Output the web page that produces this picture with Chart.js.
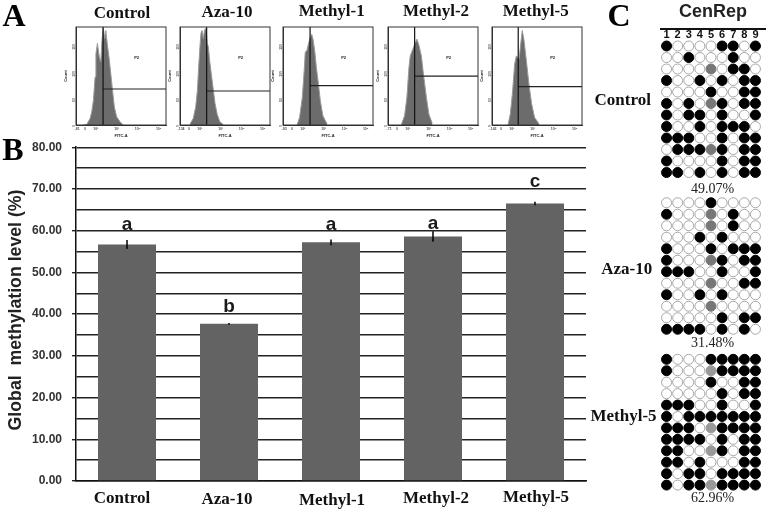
<!DOCTYPE html>
<html><head><meta charset="utf-8">
<style>
html,body{margin:0;padding:0;background:#fff;width:767px;height:511px;overflow:hidden}
#page{position:relative;width:767px;height:511px;filter:blur(.3px)}
canvas{position:absolute;display:block}
.t{position:absolute;transform:translate(-50%,-50%);white-space:pre;line-height:1;color:#111}
.serifb{font:bold 17px "Liberation Serif",serif}
.letter{font:bold 32px "Liberation Serif",serif;color:#000}
.pct{font:14px "Liberation Serif",serif;color:#222}
.cen{font:bold 18px "Liberation Sans",sans-serif;color:#222}
.ytitle{font:bold 17.7px "Liberation Sans",sans-serif;color:#222;transform:translate(-50%,-50%) rotate(-90deg)}
#rule{position:absolute;left:660px;top:28px;width:106px;height:2px;background:#111}
.blur{filter:blur(.35px)}
</style></head><body><div id="page"></div>
<script src="https://cdn.jsdelivr.net/npm/chart.js@4/dist/chart.umd.js"></script>
<script>
// ---------- Panel B data ----------
const groups = ["Control","Aza-10","Methyl-1","Methyl-2","Methyl-5"];
const methylationLevel = [56.66,37.67,57.2,58.6,66.5];
const errorHalf = [1.07,0.2,0.7,1.25,0.4];
const sigLetters = ["a","b","a","a","c"];
const sigLetterLevel = [60.2,40.4,60.2,60.35,70.5];
const yAxisTitle = "Global  methylation level (%)";

// ---------- Panel A data: FITC-A (log10) and count, per histogram ----------
const ctrlLog = [1.4,1.57,1.73,1.81,1.89,1.97,2.01,2.08,2.17,2.24,2.30,2.36,2.43,2.48,2.55,2.65,2.71,2.81,2.89,3.0,3.16,3.31];
const ctrlCount = [0,1,12,24,46,89,132,151,126,117,157,180,160,175,151,120,98,61,33,15,6,0];
const azaLog = [1.54,1.69,1.81,1.89,1.95,2.01,2.06,2.11,2.17,2.23,2.30,2.36,2.41,2.49,2.57,2.65,2.73,2.84,2.96,3.12];
const azaCount = [2,12,34,65,108,145,170,175,160,176,179,151,145,114,89,65,40,19,6,1];
const m1Log = [1.73,1.85,1.98,2.08,2.12,2.20,2.27,2.36,2.43,2.49,2.57,2.65,2.73,2.84,2.96,3.16];
const m1Count = [0,14,51,107,135,138,150,162,168,159,138,107,82,45,17,2];
const m2Log = [1.69,1.85,1.96,2.06,2.12,2.22,2.33,2.44,2.54,2.65,2.76,2.89,3.01,3.17];
const m2Count = [0,17,51,107,128,138,150,159,147,128,91,51,20,3];
const m5Log = [1.82,1.93,2.03,2.14,2.22,2.35,2.43,2.50,2.58,2.69,2.82,2.95,3.09,3.30];
const m5Count = [0,20,57,113,128,122,150,175,159,122,76,39,14,2];
const gateLog = [2.35,2.33,2.35,2.33,2.31];
const gateCount = [66.6,63,73,90.6,71];
const firstTick = ["-81","-134","-93","-71","-143"];
const countTicks = [0,50,100,150];

// ---------- Panel C data: 0 open, 1 methylated, 2 undetermined ----------
const sitesHeader = [1,2,3,4,5,6,7,8,9];
const controlDots = [
 [1,0,0,0,0,1,1,0,1],[0,0,1,0,0,0,1,0,0],[0,0,0,0,2,0,1,1,0],[1,0,0,1,0,1,0,1,1],
 [0,0,0,0,1,0,0,1,1],[1,0,1,0,2,1,0,1,1],[1,0,1,1,0,1,0,0,1],[1,0,0,1,0,1,1,1,0],
 [1,1,1,0,0,1,0,1,1],[0,1,1,1,2,1,0,1,1],[1,0,0,0,0,1,0,1,1],[1,1,0,1,0,1,0,1,1]];
const azaDots = [
 [0,0,0,0,1,0,0,0,0],[1,0,0,0,2,0,1,0,0],[0,0,0,0,2,0,1,0,0],[0,0,0,1,0,1,0,0,0],
 [1,0,0,0,1,0,1,1,1],[1,0,0,0,2,1,0,1,1],[1,1,1,0,0,1,0,0,1],[0,0,0,0,2,0,0,1,1],
 [1,0,0,1,0,1,0,0,0],[0,0,0,0,2,0,0,0,0],[0,0,0,0,0,1,0,1,1],[1,1,1,1,0,1,0,1,0]];
const methyl5Dots = [
 [1,0,0,0,1,1,1,1,1],[1,0,0,0,2,1,1,1,1],[0,0,0,0,1,0,0,1,1],[0,0,0,0,0,1,0,1,1],
 [1,1,1,0,0,1,0,0,1],[1,0,1,1,1,1,1,1,1],[1,1,1,0,2,1,1,1,1],[1,1,1,1,0,1,0,1,1],
 [1,1,0,0,2,1,0,1,1],[1,1,0,1,0,0,0,1,1],[1,0,1,1,0,1,1,1,1],[1,0,1,1,2,1,1,1,1]];

// ---------- helpers ----------
const page = document.getElementById('page');
Chart.defaults.animation = false;
Chart.defaults.responsive = false;
Chart.defaults.plugins.legend.display = false;
Chart.defaults.plugins.tooltip.enabled = false;
function canvasAt(l,t,w,h,cls){
  const c=document.createElement('canvas');c.width=w;c.height=h;
  c.style.left=l+'px';c.style.top=t+'px';c.style.width=w+'px';c.style.height=h+'px';
  if(cls)c.className=cls;page.appendChild(c);return c;
}
function text(s,x,y,cls){const d=document.createElement('div');d.className='t '+cls;d.textContent=s;
  d.style.left=x+'px';d.style.top=y+'px';page.appendChild(d);}

// ---------- Panel B ----------
const barDecor={id:'barDecor',afterDatasetsDraw(ch){
  const g=ch.ctx,x=ch.scales.x,y=ch.scales.y;g.save();
  g.strokeStyle='#000';g.lineWidth=1.5;
  groups.forEach((n,i)=>{const px=x.getPixelForValue(i);
    g.beginPath();g.moveTo(px,y.getPixelForValue(methylationLevel[i]+errorHalf[i]));
    g.lineTo(px,y.getPixelForValue(methylationLevel[i]-errorHalf[i]));g.stroke();});
  g.fillStyle='#1a1a1a';g.font='bold 19px "Liberation Sans"';g.textAlign='center';g.textBaseline='alphabetic';
  groups.forEach((n,i)=>g.fillText(sigLetters[i],x.getPixelForValue(i),y.getPixelForValue(sigLetterLevel[i])));
  // category labels, nudged as in the figure
  const dx=[-5,-2,1,3,1], dy=[499,500,501,499,498];
  g.fillStyle='#111';g.font='bold 17px "Liberation Serif"';g.textBaseline='middle';
  groups.forEach((n,i)=>g.fillText(n,x.getPixelForValue(i)+dx[i],dy[i]-ch.canvas.offsetTop));
  g.restore();
}};
new Chart(canvasAt(0,130,600,381),{
  type:'bar',
  data:{labels:groups,datasets:[{data:methylationLevel,backgroundColor:'#636363',borderWidth:0,
    barPercentage:58/102,categoryPercentage:1}]},
  options:{
    layout:{padding:{top:12,right:14,left:0,bottom:0}},
    scales:{
      x:{grid:{display:false},border:{color:'#111',width:1.5},ticks:{display:false},
         afterFit(s){s.height=30;}},
      y:{min:0,max:80,
         afterFit(s){s.width=76;},
         border:{color:'#111',width:1.5},
         grid:{color:'#222',lineWidth:1.4,tickLength:4,
               tickColor:c=>(c.tick&&c.tick.value%10===0)?'#222':'rgba(0,0,0,0)'},
         ticks:{stepSize:5,autoSkip:false,padding:10,color:'#333',
                font:{family:'"Liberation Sans"',size:12,weight:'bold'},
                callback:v=>v%10===0?v.toFixed(2):''}
      }
    }
  },
  plugins:[barDecor]
});
text(yAxisTitle,15,310,'ytitle');

// ---------- Panel A ----------
const histLeft=[76,180,283,388,492];
const histSeries=[[ctrlLog,ctrlCount],[azaLog,azaCount],[m1Log,m1Count],[m2Log,m2Count],[m5Log,m5Count]];
const histFrame={id:'histFrame',afterDatasetsDraw(ch){
  const g=ch.ctx,a=ch.chartArea;g.save();g.strokeStyle='#333';g.lineWidth=1;
  g.strokeRect(a.left,a.top,a.right-a.left,a.bottom-a.top);
  g.fillStyle='#222';g.font='bold 4px "Liberation Sans"';g.textAlign='center';g.textBaseline='middle';
  g.fillText('P2',ch.scales.x.getPixelForValue(3.95),ch.scales.y.getPixelForValue(124));
  g.restore();
}};
const majorLabels={2:'10²',3:'10³',4:'10⁴',5:'10⁵'};
histSeries.forEach((s,i)=>{
  const pts=s[0].map((v,k)=>({x:v,y:s[1][k]}));
  const minor=[];[2,3,4].forEach(d=>[2,3,4,5,6,7,8,9].forEach(m=>minor.push(d+Math.log10(m))));
  new Chart(canvasAt(histLeft[i]-15,22,15+90+3,5+98+13,'blur'),{
    type:'scatter',
    data:{datasets:[
      {data:pts,showLine:true,fill:'origin',pointRadius:0,borderColor:'#9a9a9a',borderWidth:1,backgroundColor:'#6c6c6c',tension:0,order:2},
      {data:[{x:gateLog[i],y:0},{x:gateLog[i],y:181.5}],showLine:true,pointRadius:0,borderColor:'#111',borderWidth:1.2,order:0},
      {data:[{x:gateLog[i],y:gateCount[i]},{x:5.35,y:gateCount[i]}],showLine:true,pointRadius:0,borderColor:'#222',borderWidth:1.1,order:0}
    ]},
    options:{
      layout:{padding:{top:5,right:3}},
      scales:{
        x:{min:1.06,max:5.35,grid:{display:false,tickLength:2,tickColor:'#222',tickWidth:.8},border:{color:'#333'},
           afterFit(a){a.height=13;},
           afterBuildTicks(a){a.ticks=[1.11,1.49,2,3,4,5].concat(minor).map(v=>({value:v}));},
           ticks:{autoSkip:false,maxRotation:0,padding:0,color:'#555',font:{size:3.5,family:'"Liberation Sans"',weight:'bold'},
             callback(v){return v===1.11?firstTick[i]:v===1.49?'0':(majorLabels[v]||'');}},
           title:{display:true,text:'FITC-A',color:'#222',padding:0,font:{size:4,family:'"Liberation Sans"',weight:'bold'}}},
        y:{min:0,max:181.5,grid:{display:false,tickLength:2,tickColor:'#222',tickWidth:.8},border:{color:'#333'},
           afterFit(a){a.width=15;},
           afterBuildTicks(a){a.ticks=countTicks.map(v=>({value:v}));},
           ticks:{padding:0,minRotation:90,maxRotation:90,color:'#555',font:{size:3.5,family:'"Liberation Sans"',weight:'bold'}},
           title:{display:true,text:'Count',color:'#222',padding:{top:2,bottom:0},font:{size:4,family:'"Liberation Sans"',weight:'bold'}}}
      }
    },
    plugins:[histFrame]
  });
});

// ---------- Panel C ----------
function dotsOf(rows,state){const out=[];rows.forEach((r,ri)=>r.forEach((v,ci)=>{if(v===state)out.push({x:ci+1,y:ri+1});}));return out;}
function dotChart(rows,top,height,grey,showHead){
  const head=showHead?12.25:0, pad=6;
  const canvasTop=Math.floor(top-(showHead?head:pad));
  const extra=(top-(showHead?head:pad))-canvasTop;
  const h=Math.ceil(height+head+pad+(showHead?0:pad)+extra);
  const base={pointRadius:5,clip:false,pointBorderWidth:1};
  new Chart(canvasAt(655,canvasTop,112,h),{
    type:'scatter',
    data:{datasets:[
      Object.assign({data:dotsOf(rows,0),backgroundColor:'#fff',borderColor:'#a6a6a6'},base),
      Object.assign({data:dotsOf(rows,1),backgroundColor:'#000',borderColor:'#000'},base),
      Object.assign({data:dotsOf(rows,2),backgroundColor:grey,borderColor:grey},base)
    ]},
    options:{
      layout:{padding:{left:4.3,right:5.1,top:showHead?extra:pad+extra,bottom:h-height-head-(showHead?extra:pad+extra)}},
      scales:{
        x:{type:'linear',position:'top',min:.5,max:9.5,display:showHead,grid:{display:false,drawTicks:false},border:{display:false},
           afterFit(a){a.height=head;},
           afterBuildTicks(a){a.ticks=sitesHeader.map(v=>({value:v}));},
           ticks:{padding:-1.5,maxRotation:0,autoSkip:false,color:'#111',font:{family:'"Liberation Sans"',size:11,weight:'bold'}}},
        y:{min:.5,max:12.5,reverse:true,display:false}
      }
    }
  });
}
dotChart(controlDots,40.25,138,'#777777',true);
dotChart(azaDots,197,138,'#777777',false);
dotChart(methyl5Dots,353.6,137.2,'#999999',false);

// ---------- Text ----------
text('A',14,15,'letter');text('B',13,149,'letter');text('C',619,15,'letter');
[['Control',122,13],['Aza-10',227,11.5],['Methyl-1',331.7,10.5],['Methyl-2',436,11],['Methyl-5',535.7,10.7]]
  .forEach(a=>text(a[0],a[1],a[2],'serifb'));
[['Control',622.7,100],['Aza-10',626.7,269.3],['Methyl-5',623.5,416]].forEach(a=>text(a[0],a[1],a[2],'serifb'));
text('CenRep',713,11,'cen');
const rule=document.createElement('div');rule.id='rule';page.appendChild(rule);
[['49.07%',189],['31.48%',343],['62.96%',498]].forEach(a=>text(a[0],712.7,a[1],'pct'));
</script></body></html>
